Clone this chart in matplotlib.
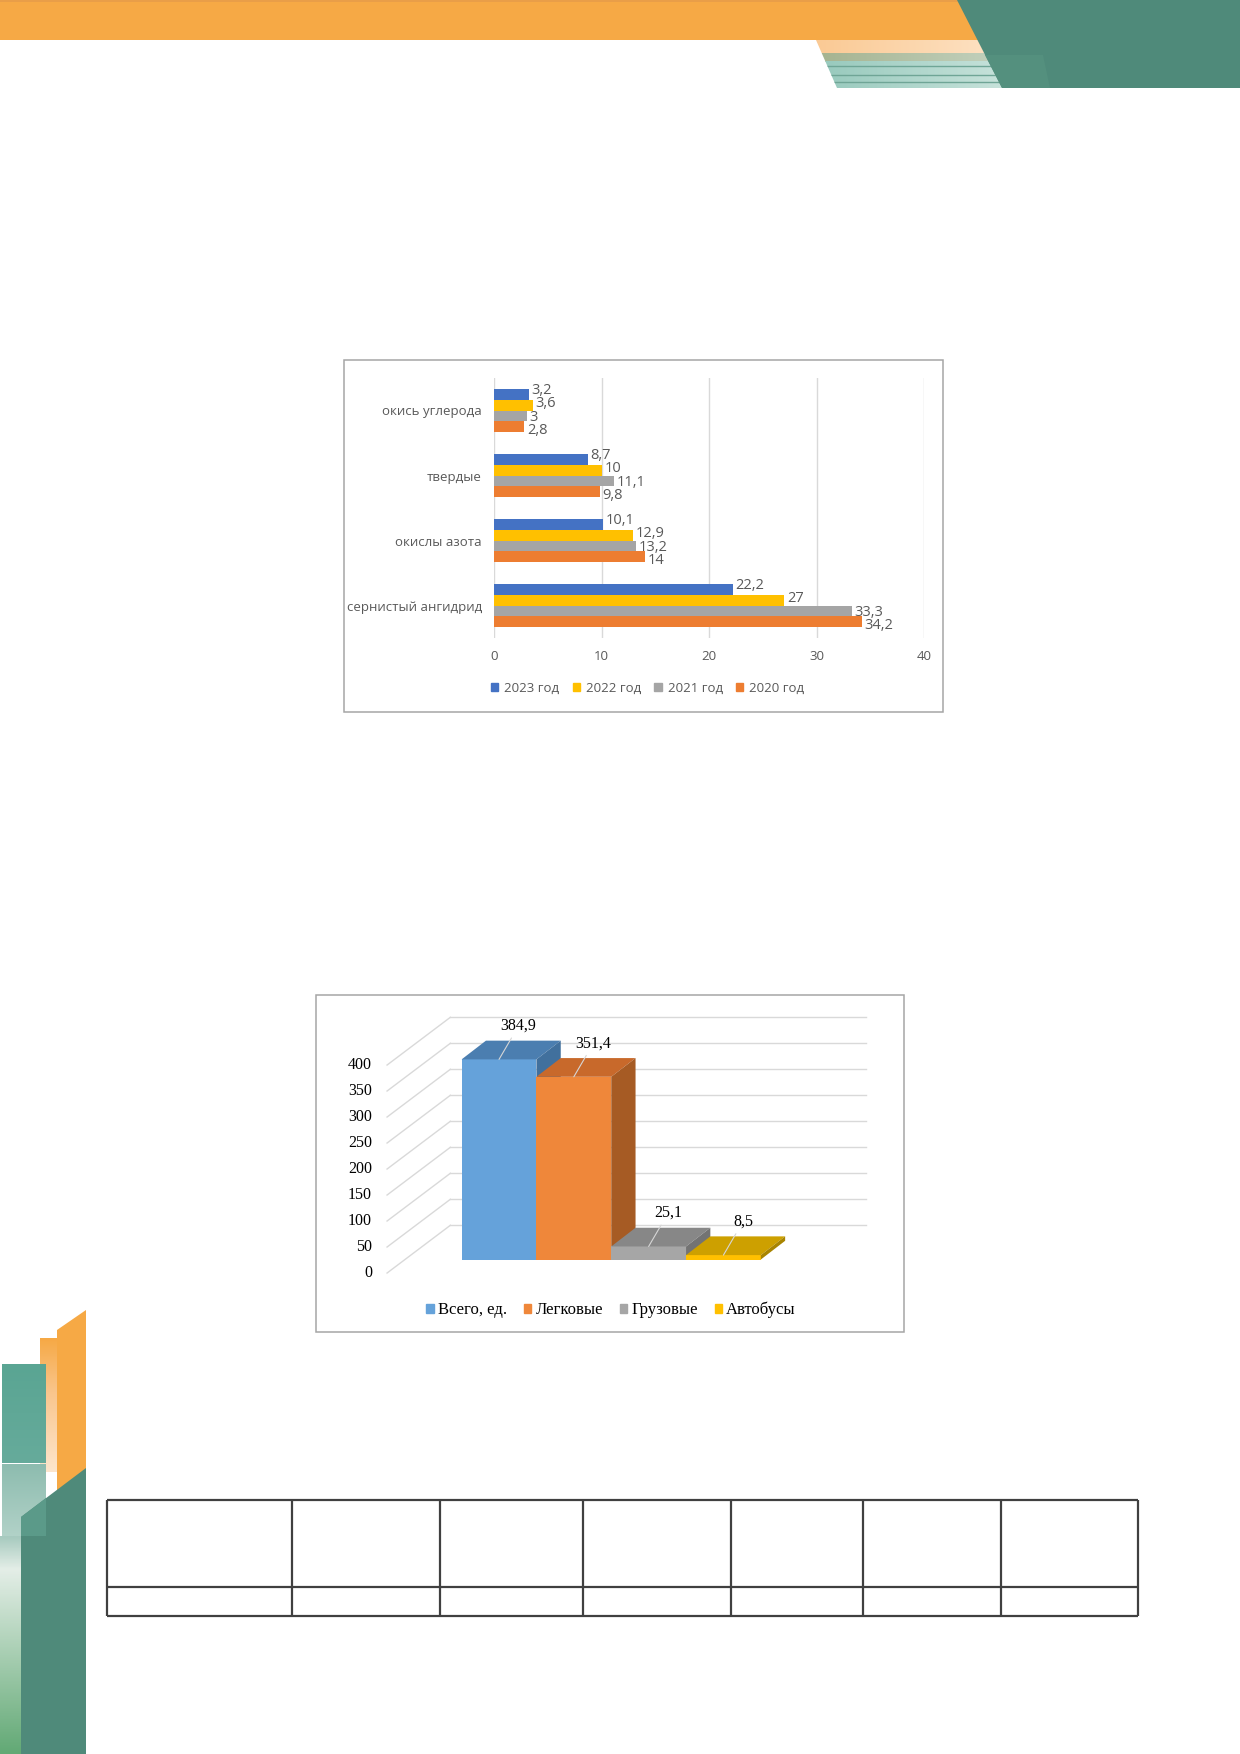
import numpy as np
import matplotlib
matplotlib.use('Agg')
import matplotlib.pyplot as plt
from matplotlib.patches import Polygon, Rectangle, Patch
from matplotlib.colors import LinearSegmentedColormap

# --- chart 1: emissions by pollutant, per year ---
pollutants = ['сернистый ангидрид', 'окислы азота', 'твердые', 'окись углерода']
years = ['2020 год', '2021 год', '2022 год', '2023 год']
v2020 = [34.2, 14, 9.8, 2.8]
v2021 = [33.3, 13.2, 11.1, 3]
v2022 = [27, 12.9, 10, 3.6]
v2023 = [22.2, 10.1, 8.7, 3.2]
year_colors = ['#ED7D31', '#A5A5A5', '#FFC000', '#4472C4']
x1_ticks = [0, 10, 20, 30, 40]

# --- chart 2: vehicles (3d columns) ---
vehicles = ['Всего, ед.', 'Легковые', 'Грузовые', 'Автобусы']
counts = [384.9, 351.4, 25.1, 8.5]
y2_ticks = [0, 50, 100, 150, 200, 250, 300, 350, 400]
front_colors = ['#65A2DA', '#EF873A', '#A6A6A6', '#FFC000']
top_colors = ['#4B7EB0', '#C8692B', '#878787', '#CDA000']
side_colors = ['#41709D', '#A65B24', '#737373', '#A88400']

W, H = 1240, 1754
fig = plt.figure(figsize=(W / 100, H / 100), dpi=100)
page = fig.add_axes([0, 0, 1, 1], zorder=0)
page.axis('off')


def box(x0, y0, x1, y1):
    # pixel box on the page -> figure fraction
    return [x0 / W, 1 - y1 / H, (x1 - x0) / W, (y1 - y0) / H]


def fmt(v):
    return f'{v:g}'.replace('.', ',')


def grad(x0, x1, y0, y1, stops, horizontal=False, clip=None):
    cmap = LinearSegmentedColormap.from_list('g', stops)
    arr = np.linspace(0, 1, 200)
    arr = arr[None, :] if horizontal else arr[:, None]
    im = page.imshow(arr, cmap=cmap, extent=(x0, x1, y1, y0), aspect='auto',
                     interpolation='bilinear', zorder=1)
    if clip is not None:
        im.set_clip_path(Polygon(clip, transform=page.transData))
    return im


# ---------- page decoration: top ----------
page.add_patch(Rectangle((0, 0), 980, 40, color='#F6A945', lw=0, zorder=1))
page.add_patch(Rectangle((0, 0), 960, 2, color='#E99E48', lw=0, zorder=1))
stripe = [(816, 40), (978, 40), (1002, 88), (837, 88)]
grad(810, 1000, 40, 53, [(0, '#FAC993'), (1, '#FDE2C4')], True, stripe)
grad(810, 1000, 53, 62, [(0, '#A4B28E'), (1, '#C2D1BD')], True, stripe)
grad(810, 1002, 62, 88.5, [(0, '#95C8BB'), (1, '#C6E2DA')], True, stripe)
for yy in (66, 75, 82):
    ln, = page.plot([800, 1010], [yy, yy], color='#6FA596', lw=1, zorder=2)
    ln.set_clip_path(Polygon(stripe, transform=page.transData))
page.add_patch(Polygon([(957, 0), (1240, 0), (1240, 88), (1002, 88)],
                       color='#4F8A7A', lw=0, zorder=3))
page.add_patch(Polygon([(985, 55), (1043, 55), (1050, 88), (1002, 88)],
                       color='#54907E', lw=0, zorder=3))

# ---------- page decoration: bottom left ----------
grad(40, 57, 1338, 1472, [(0, '#F6A945'), (0.4, '#F9C58C'), (1, '#FDE6CD')])
page.add_patch(Polygon([(57, 1330), (86, 1310), (86, 1470), (57, 1491)],
                       color='#F6A945', lw=0, zorder=2))
grad(2, 46, 1364, 1463, [(0, '#5AA593'), (1, '#66AB9B')])
grad(2, 46, 1464, 1537, [(0, '#8DBCAF'), (1, '#B2D2C8')])
grad(0, 21, 1536, 1754, [(0, '#A7CABF'), (0.15, '#E4EEE7'), (1, '#62A975')])
page.add_patch(Polygon([(21, 1517), (86, 1468), (86, 1754), (21, 1754)],
                       color='#4F8A7A', lw=0, zorder=3))
page.add_patch(Polygon([(21, 1517), (46, 1498), (46, 1536), (21, 1536)],
                       color='#5B9A89', lw=0, zorder=3))

# ---------- empty table ----------
tab_x = [107, 292, 440, 583, 731, 863, 1001, 1138]
tab_y = [1500, 1587, 1616]
page.hlines(tab_y, tab_x[0], tab_x[-1], color='#404040', lw=1.6, zorder=2)
page.vlines(tab_x, tab_y[0], tab_y[-1], color='#404040', lw=1.6, zorder=2)

# chart frames
page.add_patch(Rectangle((344, 360), 599, 352, fill=False, ec='#A6A6A6', lw=1.1, zorder=2))
page.add_patch(Rectangle((316, 995), 588, 337, fill=False, ec='#A6A6A6', lw=1.1, zorder=2))

page.set_xlim(0, W)
page.set_ylim(H, 0)

# ---------- chart 1 ----------
sans = ['Open Sans', 'DejaVu Sans']
txt = '#595959'
ax1 = fig.add_axes(box(494.3, 378, 924, 638), zorder=2)
ypos = np.arange(len(pollutants))
h = 0.168
for k, (vals, col) in enumerate(zip([v2020, v2021, v2022, v2023], year_colors)):
    yy = ypos + (k - 1.5) * h
    ax1.barh(yy, vals, height=h, color=col, zorder=3)
    # labels spread a little wider than the bars, like Excel does
    for y, v in zip(ypos + (k - 1.5) * h * 1.25, vals):
        ax1.text(v + 0.25, y, fmt(v), va='center', ha='left', fontsize=10.5,
                 color=txt, family=sans, zorder=4)
ax1.set_xlim(0, 40)
ax1.set_ylim(-0.5, 3.5)
ax1.set_xticks(x1_ticks)
ax1.set_xticklabels([str(t) for t in x1_ticks], family=sans, fontsize=9.5, color=txt)
ax1.set_yticks(ypos)
ax1.set_yticklabels(pollutants, family=sans, fontsize=9.5, color=txt)
ax1.tick_params(length=0)
ax1.tick_params(axis='x', pad=9)
ax1.tick_params(axis='y', pad=9)
ax1.grid(axis='x', color='#D9D9D9', lw=1)
ax1.set_axisbelow(True)
for s in ax1.spines.values():
    s.set_visible(False)
ax1.legend([Patch(color=c) for c in year_colors[::-1]], years[::-1],
           loc='center', bbox_to_anchor=(0.357, -0.192), ncol=4, frameon=False,
           handlelength=0.55, handleheight=0.55, handletextpad=0.45,
           columnspacing=1.0, prop={'family': sans, 'size': 9.5}, labelcolor=txt)

# ---------- chart 2 (oblique 3d columns) ----------
serif = ['Liberation Serif', 'DejaVu Serif']
ax2 = fig.add_axes(box(316, 995, 904, 1332), zorder=2)
ax2.set_xlim(-2.447, 5.414)
ax2.set_ylim(-139.4, 508.7)
ax2.axis('off')
DX, DY = 0.325, 36.0      # depth of a column
WX, WY = 0.607, 65.8      # back wall offset from column fronts
FX, FY = -0.239, -26.0    # front floor edge offset
XL, XR = -1.258, 4.303    # floor left / right edge

for v in y2_ticks:
    ax2.plot([XL + WX, XR + WX], [v + WY, v + WY], color='#D9D9D9', lw=1, zorder=1)
    ax2.plot([XL + FX, XL + WX], [v + FY, v + WY], color='#D9D9D9', lw=1, zorder=1)
    ax2.text(XL + FX - 0.2, v + FY, str(v), ha='right', va='center',
             fontsize=11.5, family=serif, color='black')

xs = np.arange(len(vehicles))
for i, v in enumerate(counts):
    z = 2 + i
    ax2.bar(xs[i], v, width=1, color=front_colors[i], lw=0, zorder=z)
    ax2.add_patch(Polygon([(i - 0.5, v), (i + 0.5, v), (i + 0.5 + DX, v + DY),
                           (i - 0.5 + DX, v + DY)], color=top_colors[i], lw=0, zorder=z))
    ax2.add_patch(Polygon([(i + 0.5, 0), (i + 0.5, v), (i + 0.5 + DX, v + DY),
                           (i + 0.5 + DX, DY)], color=side_colors[i], lw=0, zorder=z))
for i, v in enumerate(counts):
    ax2.annotate(fmt(v), xy=(xs[i], v), xytext=(14, 24), textcoords='offset points',
                 ha='center', va='center', fontsize=11.5, family=serif, zorder=10,
                 arrowprops=dict(arrowstyle='-', color='#D6D6D6', lw=0.8,
                                 shrinkA=1, shrinkB=0))

ax2.legend([Patch(color=c) for c in front_colors], vehicles, loc='center',
           bbox_to_anchor=(0.502, 0.065), ncol=4, frameon=False,
           handlelength=0.45, handleheight=0.5, handletextpad=0.25,
           columnspacing=1.0, prop={'family': serif, 'size': 12})

fig.savefig('out.png', dpi=100)
